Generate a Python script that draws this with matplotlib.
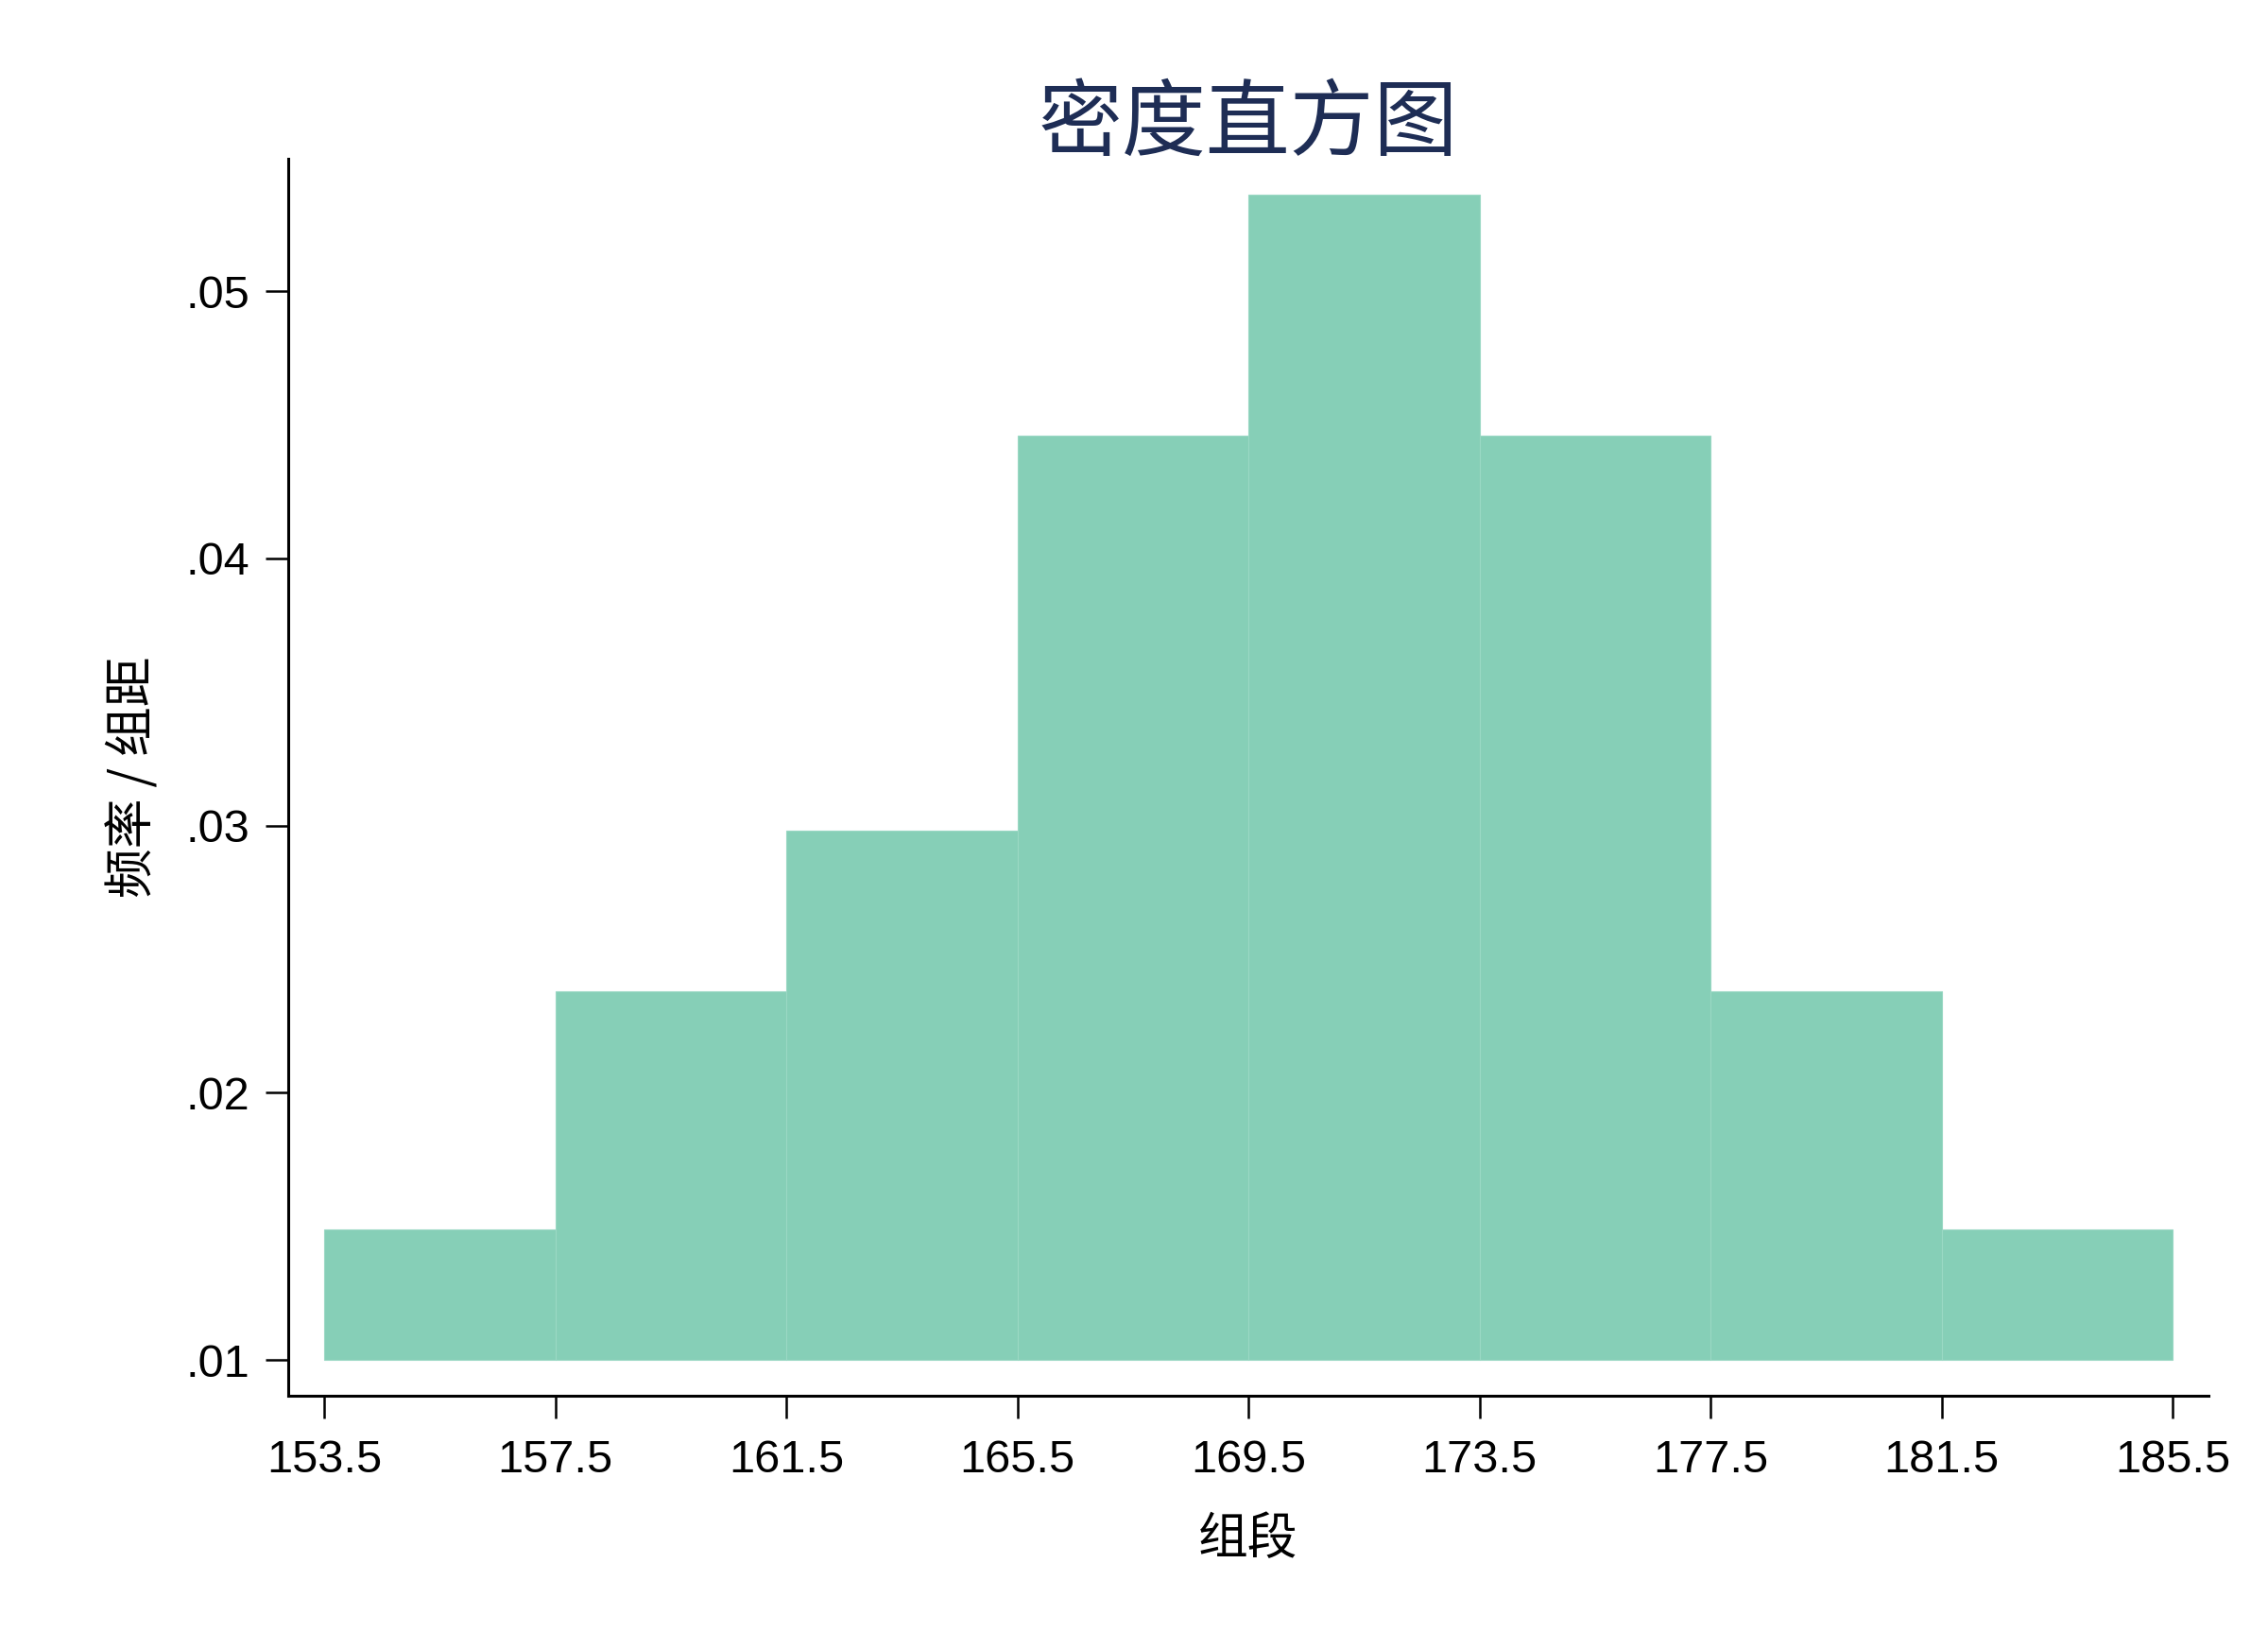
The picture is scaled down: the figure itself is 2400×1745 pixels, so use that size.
import matplotlib
matplotlib.use('Agg')
import matplotlib.pyplot as plt

# bin edges and density (频率/组距)
edges = [153.5, 157.5, 161.5, 165.5, 169.5, 173.5, 177.5, 181.5, 185.5]
density = [0.0149, 0.0238, 0.0298, 0.0446, 0.0536, 0.0446, 0.0238, 0.0149]
yticks = [0.01, 0.02, 0.03, 0.04, 0.05]
ytick_labels = ['.01', '.02', '.03', '.04', '.05']
base = 0.01

cjk = ['Noto Sans CJK SC', 'DejaVu Sans']


def main():
    fig = plt.figure(figsize=(12, 8.725), dpi=200)
    ax = fig.add_axes([0.1269, 0.1536, 0.9738 - 0.1269, 0.9037 - 0.1536])

    lefts = edges[:-1]
    widths = [b - a for a, b in zip(edges[:-1], edges[1:])]
    heights = [d - base for d in density]
    ax.bar(lefts, heights, width=widths, bottom=base, align='edge',
           color='#86cfb7', edgecolor='#9ad8c4', linewidth=0.4)

    ax.set_xlim(152.87, 186.12)
    ax.set_ylim(0.00866, 0.05495)
    ax.set_xticks(edges)
    ax.set_xticklabels([f'{e:.1f}' for e in edges], family='Liberation Sans', fontsize=17.5)
    ax.set_yticks(yticks)
    ax.set_yticklabels(ytick_labels, family='Liberation Sans', fontsize=17.5)

    for side in ('top', 'right'):
        ax.spines[side].set_visible(False)
    for side in ('left', 'bottom'):
        ax.spines[side].set_linewidth(1.1)
    ax.tick_params(axis='both', length=8.5, width=0.9, colors='black')
    ax.tick_params(axis='x', pad=8)
    ax.tick_params(axis='y', pad=6)

    # title placed by hand so it sits just above the plot region
    ax.text(0.5, 1.027, '密度直方图', transform=ax.transAxes, family=cjk,
            fontsize=32, fontweight='medium', color='#1e2d55',
            ha='center', va='center')
    ax.set_ylabel('频率 / 组距', family=cjk, fontsize=19, labelpad=10)
    ax.set_xlabel('组段', family=cjk, fontsize=19, labelpad=12)

    fig.savefig('out.png', dpi=200)


if __name__ == '__main__':
    main()
